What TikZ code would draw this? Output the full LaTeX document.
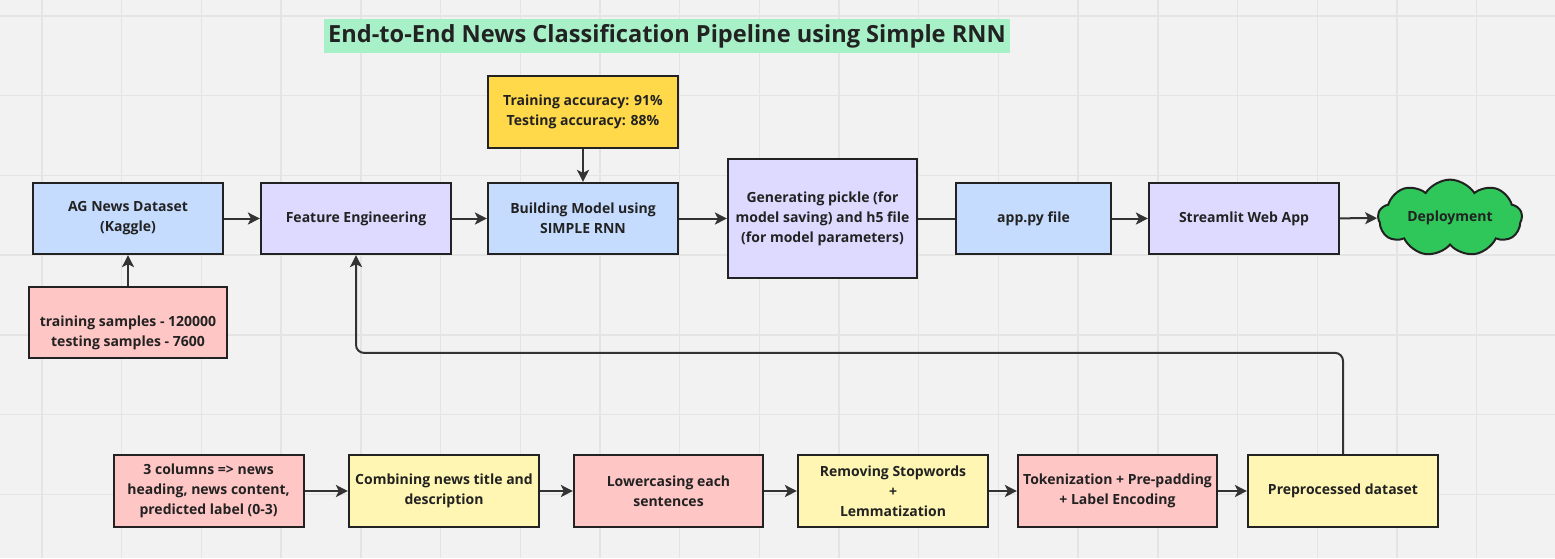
\documentclass[tikz,border=0pt]{standalone}
\usepackage{fontspec}
\setmainfont{Open Sans}
\usetikzlibrary{arrows.meta,shapes.symbols}
\definecolor{bg}{HTML}{F2F2F2}
\definecolor{gridc}{HTML}{E4E4E4}
\definecolor{cblue}{HTML}{C6DCFF}
\definecolor{cpurple}{HTML}{DEDAFF}
\definecolor{cgold}{HTML}{FFD94A}
\definecolor{cpink}{HTML}{FFC6C6}
\definecolor{cyell}{HTML}{FFF6B3}
\definecolor{cgreen}{HTML}{2FC65A}
\definecolor{ctitle}{HTML}{A8F0C8}
\definecolor{ink}{HTML}{222222}
\definecolor{wire}{HTML}{333333}
\tikzset{
  boxfont/.style={font=\fontsize{14}{20}\selectfont\bfseries},
  box/.style={rectangle, draw=ink, line width=2.2pt, align=center, text=ink,
    boxfont, inner sep=2pt,
    minimum height=71pt, minimum width=190pt},
  conn/.style={draw=wire, line width=2pt, -{Stealth[length=12pt,width=12pt,inset=3pt]}},
  plain/.style={draw=wire, line width=2pt},
}
\begin{document}
\begin{tikzpicture}[x=1pt,y=-1pt]
\useasboundingbox (0,0) rectangle (1555,558);
\fill[bg] (0,0) rectangle (1555,558);
\foreach \k in {0,...,19} {\draw[gridc, line width=1.4pt] ({42+79.7*\k},0) -- ({42+79.7*\k},558);}
\foreach \k in {0,...,6} {\draw[gridc, line width=1.4pt] (0,{16+79.7*\k}) -- (1555,{16+79.7*\k});}

\node[fill=ctitle, minimum width=686pt, minimum height=34pt, inner sep=0pt, text=ink,
  font=\fontsize{23.6}{28}\selectfont\bfseries] (title) at (667,36) {End-to-End News Classification Pipeline using Simple RNN};

% top row
\node[box, fill=cblue] (ag) at (128,218.5) {AG News Dataset\\(Kaggle)};
\node[box, fill=cpurple] (fe) at (356,218.5) {Feature Engineering};
\node[box, fill=cblue] (bm) at (583,218.5) {Building Model using\\SIMPLE RNN};
\node[box, fill=cgold, minimum height=72pt] (acc) at (583,112) {Training accuracy: 91\%\\Testing accuracy: 88\%};
\node[box, fill=cpurple, minimum width=189pt, minimum height=119pt] (gp) at (822.5,218.5) {Generating pickle (for\\model saving) and h5 file\\(for model parameters)};
\node[box, fill=cblue, minimum width=155pt] (app) at (1033.5,218.5) {app.py file};
\node[box, fill=cpurple] (st) at (1244,218.5) {Streamlit Web App};
\node[cloud, cloud puffs=9, cloud puff arc=115, aspect=2.1, draw=ink, line width=2pt, fill=cgreen,
  minimum width=144pt, minimum height=68pt, inner sep=0pt, text=ink, boxfont] (dep) at (1450,218) {Deployment};

\node[box, fill=cpink, minimum width=198pt, label={[text=ink, align=center, boxfont, yshift=-10pt]center:training samples - 120000\\testing samples - 7600}] (ts) at (128,322.5) {};

% bottom row
\node[box, fill=cpink, minimum height=72pt] (c3) at (208.6,491) {3 columns => news\\heading, news content,\\predicted label (0-3)};
\node[box, fill=cyell, minimum height=72pt] (comb) at (444,491) {Combining news title and\\description};
\node[box, fill=cpink, minimum height=72pt, minimum width=189pt] (low) at (668.5,491) {Lowercasing each\\sentences};
\node[box, fill=cyell, minimum height=72pt] (rem) at (893,491) {Removing Stopwords\\+\\Lemmatization};
\node[box, fill=cpink, minimum height=72pt, minimum width=199pt] (tok) at (1117.5,491) {Tokenization + Pre-padding\\+ Label Encoding};
\node[box, fill=cyell, minimum height=72pt] (pre) at (1343,491) {Preprocessed dataset};

% connectors
\draw[conn] (ag) -- (fe);
\draw[conn] (fe) -- (bm);
\draw[conn] (bm) -- (gp);
\draw[plain] (gp) -- (app);
\draw[conn] (app) -- (st);
\draw[conn] (st) -- (dep);
\draw[conn] (acc) -- (bm);
\draw[conn] (ts) -- (ag);
\draw[conn] (c3) -- (comb);
\draw[conn] (comb) -- (low);
\draw[conn] (low) -- (rem);
\draw[conn] (rem) -- (tok);
\draw[conn] (tok) -- (pre);
\draw[conn, rounded corners=8pt] (pre.north) -- ++(0,-101) -| (fe.south);
\end{tikzpicture}
\end{document}
